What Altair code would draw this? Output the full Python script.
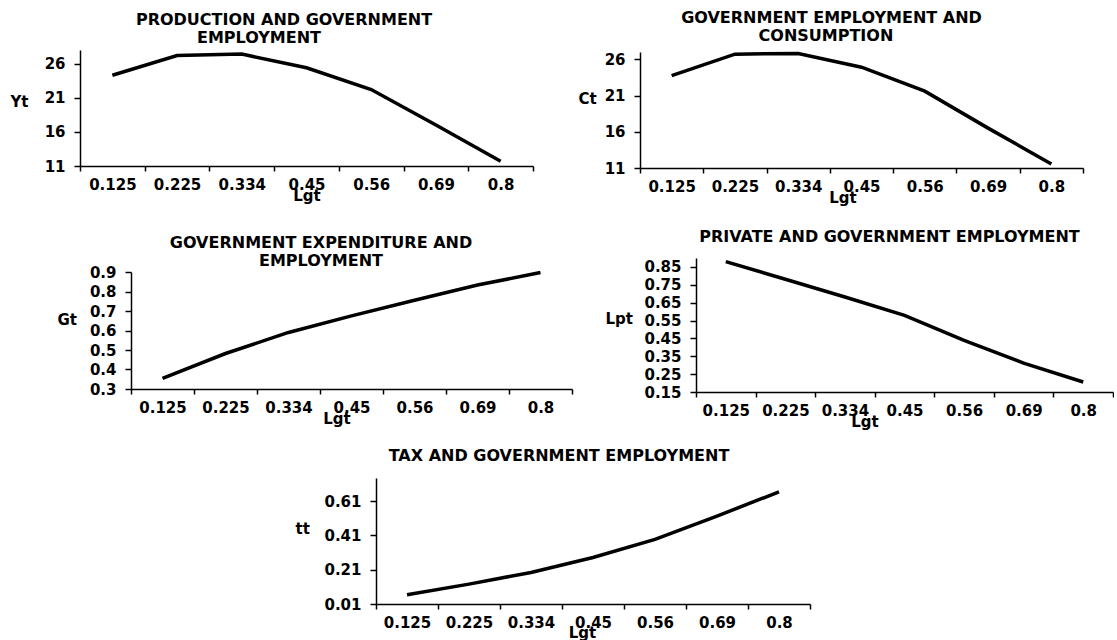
import altair as alt
import pandas as pd

# Category labels on the x axis (Lgt)
lgt = ["0.125", "0.225", "0.334", "0.45", "0.56", "0.69", "0.8"]

# Series
yt = [24.3, 27.2, 27.4, 25.4, 22.2, 17.0, 11.7]
ct = [23.75, 26.7, 26.8, 24.9, 21.6, 16.5, 11.55]
gt = [0.355, 0.482, 0.59, 0.675, 0.755, 0.833, 0.897]
lpt = [0.88, 0.781, 0.682, 0.579, 0.439, 0.312, 0.206]
tt = [0.064, 0.126, 0.194, 0.281, 0.387, 0.523, 0.664]

# y-axis ticks
yt_ticks = [11, 16, 21, 26]
gt_ticks = [0.3, 0.4, 0.5, 0.6, 0.7, 0.8, 0.9]
lpt_ticks = [0.15, 0.25, 0.35, 0.45, 0.55, 0.65, 0.75, 0.85]
tt_ticks = [0.01, 0.21, 0.41, 0.61]

FONT = "DejaVu Sans"
NB = "\u00a0"
ZW = "\u200b"

n = len(lgt)
# tick i sits on the left edge of category i; label is shifted back by half a band
label_expr = "[" + ",".join("'" + s + "'" for s in [""] + lgt) + "][datum.value]"


def panel(values, name, title_lines, title_dx, title_offset, ydomain, yticks, yfmt,
          view, plot, ytx, yty, xtdx, xty=34):
    vw, vh = view
    px, py, pw, ph = plot
    df = pd.DataFrame({"Lgt": lgt, "idx": [i + 0.5 for i in range(n)], name: values})
    return alt.Chart(df).mark_line(color="black", strokeWidth=3.5).encode(
        x=alt.X("idx:Q",
                scale=alt.Scale(domain=[0, n], nice=False, zero=False, range=[px, px + pw]),
                axis=alt.Axis(values=list(range(n + 1)), labelExpr=label_expr,
                              labelOffset=-pw / n / 2, labelFlush=False, labelOverlap=False,
                              labelBound=False, tickSize=5, labelPadding=6,
                              offset=-(vh - py - ph),
                              title="Lgt", titleX=px + pw / 2 + xtdx, titleY=xty,
                              titleBaseline="alphabetic", titleAlign="center")),
        y=alt.Y(name + ":Q",
                scale=alt.Scale(domain=ydomain, nice=False, zero=False, range=[py + ph, py]),
                axis=alt.Axis(values=yticks, format=yfmt, tickSize=6, labelPadding=9,
                              labelOverlap=False, labelFlush=False, offset=-px,
                              title=name, titleAngle=0, titleX=ytx, titleY=py + yty,
                              titleAlign="left", titleBaseline="middle")),
    ).properties(
        width=vw, height=vh,
        title=alt.TitleParams(text=title_lines, dx=title_dx, offset=title_offset,
                              frame="group", anchor="middle", baseline="alphabetic",
                              font=FONT, fontSize=16, fontWeight="bold", color="black",
                              lineHeight=18),
    )


p1 = panel(yt, "Yt", ["PRODUCTION AND GOVERNMENT", "EMPLOYMENT" + NB * 9 + ZW], -76, -12,
           [11, 28], yt_ticks, "d", (560, 208), (0, 0, 453, 116), -70, 51, 0)
p2 = panel(ct, "Ct", ["GOVERNMENT EMPLOYMENT AND", "CONSUMPTION" + NB * 2 + ZW], -45, -11,
           [11, 27], yt_ticks, "d", (473, 208), (0, 2, 443, 116), -62, 46, -19)
p3 = panel(gt, "Gt", ["GOVERNMENT EXPENDITURE  AND", "EMPLOYMENT"], -39, -24,
           [0.3, 0.9], gt_ticks, ".1f", (560, 220), (51, 14, 441, 117), -74, 47, -15)
p4 = panel(lpt, "Lpt", ["PRIVATE AND  GOVERNMENT EMPLOYMENT"], 13, -3,
           [0.15, 0.9], lpt_ticks, ".2f", (473, 220), (56, 0, 417, 134), -91, 60, -40)
p5 = panel(tt, "tt", ["TAX  AND GOVERNMENT EMPLOYMENT"], 199, 1.5,
           [0.01, 0.745], tt_ticks, ".2f", (560, 126), (296, 0, 434, 126), -81, 50, -11, 33)

chart = alt.concat(p1, p2, p3, p4, p5, columns=2, spacing=0, align="each",
                   bounds="flush").properties(
    padding={"left": 10, "top": 10, "right": 0, "bottom": 0},
    background="white",
).configure_axis(
    domainColor="black", domainWidth=1.5, tickColor="black", tickWidth=1.5,
    labelFont=FONT, labelFontWeight="bold", labelFontSize=15, labelColor="black",
    titleFont=FONT, titleFontWeight="bold", titleFontSize=15, titleColor="black",
    grid=False,
).configure_view(stroke=None)

chart.save("out.html", embed_options={"renderer": "svg", "actions": False})
